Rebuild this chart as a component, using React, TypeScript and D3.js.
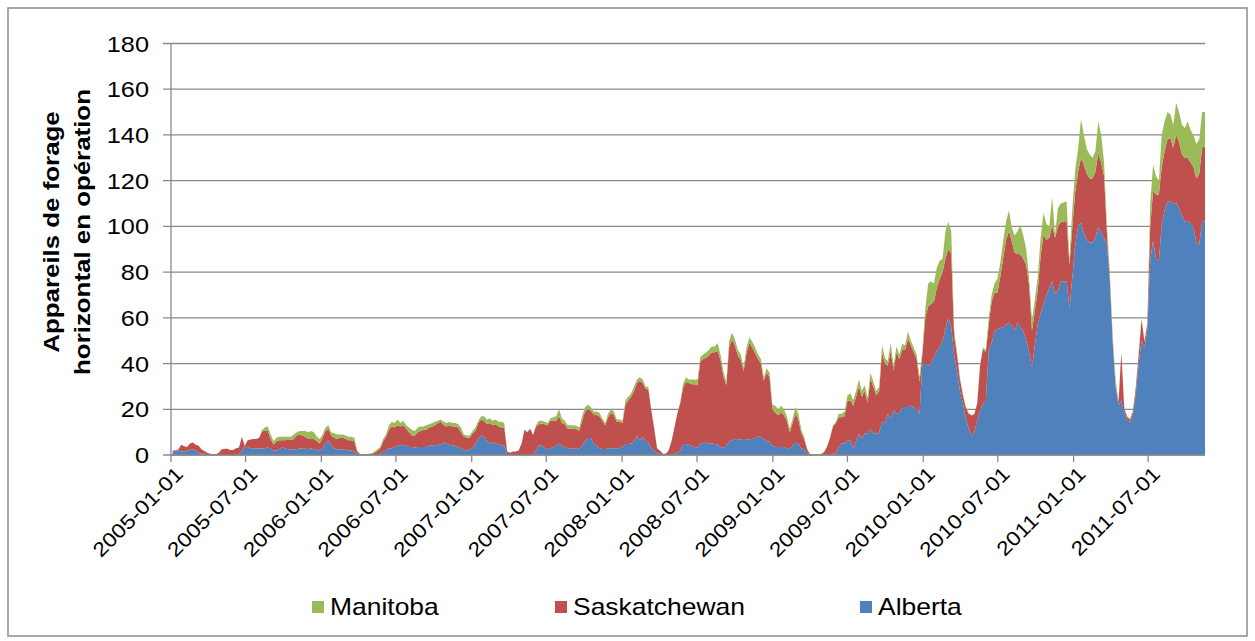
import React from 'react';
import * as d3 from 'd3';

// Weekly observations, first week starting on this date
const startDate = '2005-01-05';

const alberta = [
  1.8, 1.8, 2, 1.5, 1.5, 2, 2.2, 2.5, 2, 1,
  0.5, 0.5, 0.3, 0, 0, 0, 0, 0, 0, 0,
  0, 0, 0, 0.5, 2, 3.7, 3.5, 3, 3, 3,
  2.8, 2.8, 3, 3.5, 2.5, 2, 2, 2.5, 3.5, 3,
  2.5, 2.5, 2.5, 2.5, 3, 2.7, 2.7, 2.5, 3, 2.5,
  2.5, 2, 3, 5, 6.4, 4, 3, 2.5, 2.5, 2.5,
  2.3, 2, 2, 1.5, 0.5, 0.2, 0.1, 0, 0, 0,
  0, 0.3, 0.5, 1.5, 2, 3, 3, 3.5, 4, 4.2,
  4.5, 4, 3.5, 3.5, 3.2, 3.5, 3.5, 3.5, 3.5, 4,
  4.3, 4.3, 4.5, 4.5, 5.5, 5, 4.5, 4.2, 4, 3.5,
  3, 2.2, 2, 2.5, 3, 5, 7, 8.5, 8, 6,
  5.5, 5, 5.5, 4.5, 4.5, 4, 0.2, 0, 0, 0,
  0, 0, 0, 0, 0.2, 0.5, 2, 4.3, 4.3, 3,
  2.5, 3, 3.5, 4, 5, 4, 3.5, 3, 3, 2.8,
  2.6, 3, 4, 6, 7.4, 7.4, 5, 4, 3, 2.6,
  2.6, 3, 3, 3, 3, 3, 3.5, 4.8, 4.8, 5,
  6, 8.4, 6.5, 8, 6, 5.5, 3, 2, 1, 0.5,
  0, 0, 0, 0, 0.5, 1, 2, 4.8, 4.8, 4.5,
  4, 3.5, 3.2, 5, 5.4, 5.4, 5, 5, 4.8, 4.5,
  3.5, 3.2, 4, 6, 6.5, 7, 6.9, 6.9, 7, 6.9,
  6.9, 7, 7.5, 8, 8, 7, 6, 6, 4, 3.5,
  3.5, 3.5, 3.5, 3, 2.5, 4, 5.4, 5, 3, 2.5,
  1, 0.3, 0.2, 0.2, 0.2, 0.2, 0.3, 0.3, 0.3, 0.5,
  0.5, 3.5, 5, 5, 6.5, 6.5, 3, 6, 9.4, 7.2,
  9.4, 9.4, 11.6, 9.4, 9.4, 10, 14.5, 13.8, 18, 16,
  19.5, 18, 18.5, 21, 21, 21, 21.7, 21, 20, 18,
  40, 40, 39, 40, 43, 45.6, 47, 50, 55, 60,
  56, 44, 37, 28, 23, 16.5, 11.7, 8.5, 10, 15,
  19, 22.6, 23.5, 45.7, 49, 54, 55, 55.5, 56, 57,
  58, 56.6, 54.4, 58, 56, 54.4, 50, 45, 38.5, 48,
  57.3, 62, 66, 70, 73.2, 76, 70.3, 71.8, 76, 76,
  76, 64, 78, 92, 100, 101.7, 97, 94, 93, 93,
  95, 100, 97, 95, 92, 76, 49, 30, 22, 24,
  18.5, 15, 14.5, 17.5, 27, 40, 50, 47, 55, 85,
  93.8, 86, 85, 101, 107, 111, 111, 109.7, 110.4, 108,
  105, 102, 102.5, 101, 100, 93, 92, 102.5, 102,
];

const saskatchewan = [
  0.2, 0.2, 0.5, 3, 2.3, 1.5, 2.8, 3, 2.5, 3,
  2, 1.3, 0.7, 0.5, 0.3, 0.3, 1, 2.5, 2.7, 2.7,
  2.2, 2.2, 3, 2.8, 6, 0.3, 3, 3.8, 4, 4,
  4.7, 7.6, 7.5, 7, 4.5, 2.5, 4, 4, 3, 3.5,
  4.5, 4, 4.5, 6, 6, 5.8, 5.3, 4.5, 4, 4.5,
  3.5, 3, 4.5, 5.5, 5.1, 4.5, 4.5, 4.5, 5, 5,
  4.7, 4.5, 4.5, 4.5, 1, 0.1, 0.1, 0.3, 0.4, 0.6,
  1, 1.5, 2.3, 4.5, 6, 8, 9.5, 8.5, 9, 8.3,
  8.5, 7.5, 6.5, 5, 5.3, 6.5, 7, 7.5, 7.5, 8,
  8.2, 8.7, 9.5, 10, 7.5, 7.5, 8.5, 8.3, 8.5, 8.5,
  7, 5.8, 5.5, 5, 6.5, 5.5, 7, 7, 7, 7.5,
  8.5, 8, 8, 8, 7.5, 8, 1.3, 1, 1.5, 1.5,
  2, 5, 11, 10, 11.3, 8.2, 10.5, 9.2, 9.5, 10.5,
  10.5, 12, 11.5, 11, 12, 10, 10, 8.5, 8.5, 8.7,
  8.7, 7.6, 11, 13, 12.6, 12.1, 12.8, 13.5, 14, 12.4,
  10.4, 13.5, 15.5, 14.5, 11.5, 11.5, 10.5, 17.2, 19.2, 20.5,
  22, 23.1, 26, 23.5, 23, 23, 16.5, 9.5, 1.8, 1.5,
  0.5, 0.5, 2, 6, 11.5, 17, 20.5, 24.7, 27.2, 27,
  27, 27.5, 27.3, 36, 36.6, 37.1, 38.5, 40, 40.2, 41,
  38, 31.3, 26.5, 41.5, 44, 41, 36.6, 34.6, 29.5, 37.6,
  42.1, 40, 37, 34, 32, 25.5, 30, 28, 16, 15,
  14, 15, 14, 12, 7.5, 10, 12.6, 10.5, 6.5, 4.5,
  1.5, 0.1, 0, 0, 0, 0.2, 1.1, 3.5, 7.5, 12,
  13.5, 13, 11.5, 12, 17, 17.5, 18.5, 19.5, 20.6, 18.3,
  18.6, 13.6, 21.9, 20.6, 16.6, 18, 30.5, 26.2, 21, 29.5,
  17.5, 27, 23.5, 25, 25, 30, 26.3, 24, 22, 14,
  4, 20, 26, 26, 24, 27.4, 30, 30, 31, 30,
  32, 8, 7, 5.5, 3.5, 4.5, 6.5, 8.8, 7.8, 7.5,
  20, 23.8, 21.5, 11.3, 18, 17, 16, 22.5, 30, 37,
  40, 36.9, 34.1, 30, 31.7, 31.6, 33, 29.5, 16, 15,
  14.7, 25, 30.4, 24, 21.8, 24.5, 24.7, 28.2, 26, 26,
  26.5, 19, 22, 23, 24, 28.3, 30, 29, 28, 28,
  29, 32, 31, 27, 5, 2, 1, 1, 1, 21,
  2, 1.5, 1, 1.5, 2.5, 4, 9.5, 2.5, 2.5, 15,
  21.7, 28, 29, 25, 26, 27, 27.7, 24.7, 29.6, 29,
  26.5, 28, 27.5, 27, 26, 28, 31, 31.9, 33,
];

const manitoba = [
  0, 0, 0, 0, 0, 0, 0, 0, 0, 0,
  0, 0, 0, 0, 0, 0, 0, 0, 0, 0,
  0, 0, 0, 0, 0, 0, 0, 0, 0, 0,
  0, 0.5, 1.5, 2, 2, 1.5, 1.5, 1.5, 1.5, 1.5,
  1, 1.5, 2, 1.5, 1.5, 2, 2.5, 3, 3.5, 3,
  2, 2, 1.5, 1.5, 1.5, 1.5, 2, 2, 1.5, 1.5,
  1.5, 1.5, 1.5, 1.5, 0.5, 0.2, 0.1, 0, 0.1, 0.2,
  0.5, 0.7, 0.7, 1, 1, 2, 2, 2, 2.5, 1.5,
  2, 1.5, 2, 2.5, 2, 2, 2, 1.5, 2, 1.5,
  1.5, 1.5, 1, 1, 1.5, 1.5, 1.5, 1.5, 1.5, 1.5,
  2, 1, 1, 1, 1, 1.5, 1, 1.5, 2, 2,
  2, 2, 2, 2, 2.5, 2, 0, 0, 0, 0,
  0, 0, 0, 0, 0, 0.3, 0.5, 1.5, 1.2, 1,
  1, 1, 1.5, 2, 3, 2, 1.5, 1.5, 1.5, 1.5,
  1.5, 1.4, 2, 2, 2, 1.5, 1.2, 1.5, 1.5, 1,
  1, 1.5, 1.5, 1.5, 1.1, 1, 1, 2, 1.5, 1.5,
  2, 1.5, 1.5, 1.5, 1, 1, 0.5, 0.5, 0.2, 0,
  0, 0, 0, 0, 0, 0, 0.5, 1.5, 2, 1.5,
  2, 2, 2.5, 2, 2, 2.5, 2.5, 2.5, 2.5, 3.5,
  2.5, 2, 1.5, 2.5, 3, 2.5, 2.5, 2.5, 2, 2.5,
  2.5, 2.5, 2.5, 2, 2, 1.5, 2, 2, 2, 3,
  2.5, 3, 2.5, 2, 1.5, 2, 3, 2.5, 1.5, 1,
  0.5, 0.1, 0.1, 0.1, 0.1, 0.1, 0.1, 0.2, 0.2, 0.5,
  0.5, 1.5, 1.5, 2, 2.5, 3, 2.5, 2.5, 3, 2.5,
  2.5, 2, 2.5, 2, 2, 2, 3, 2.5, 2, 3.5,
  2, 2.5, 2, 2.5, 2, 3, 2, 2, 2, 2,
  2, 4, 10, 10, 8, 9, 8, 6, 12, 12,
  10, 3, 1, 0.5, 0.5, 0.5, 0.3, 0.2, 0.2, 0.5,
  1, 0.6, 1, 3, 3, 4, 6, 6, 7.5, 8,
  9, 6, 7.5, 10, 12.8, 10, 7, 3, 4.5, 5,
  6, 8, 9.6, 7, 5, 12.5, 1.5, 8, 8, 8.5,
  8.5, 2, 8, 10, 10, 17, 13, 11, 10.5, 9,
  9, 14, 12, 6, 3, 2, 2, 2, 1, 0,
  0.5, 0.5, 0.5, 0.5, 0.5, 1, 0.5, 0.5, 0.5, 10,
  11.5, 8, 6, 14, 13, 12, 10.3, 10.1, 14, 13,
  13, 13, 16, 14, 14, 15, 15, 15.6, 15,
];

const seriesKeys = ['Alberta', 'Saskatchewan', 'Manitoba'];
const seriesColors: Record<string, string> = {
  Alberta: '#4F81BD',
  Saskatchewan: '#C0504D',
  Manitoba: '#9BBB59',
};
const legendOrder = ['Manitoba', 'Saskatchewan', 'Alberta'];
const legendX = [312, 555, 860];

const tickDates = [
  '2005-01-01', '2005-07-01', '2006-01-01', '2006-07-01', '2007-01-01',
  '2007-07-01', '2008-01-01', '2008-07-01', '2009-01-01', '2009-07-01',
  '2010-01-01', '2010-07-01', '2011-01-01', '2011-07-01',
];
const xDomain = ['2005-01-01', '2011-11-16'];
const yTicks = [0, 20, 40, 60, 80, 100, 120, 140, 160, 180];
const yTitle = ['Appareils de forage', 'horizontal en opération'];

const FONT = '"Liberation Sans", Arial, sans-serif';
const STRETCH = 1.15;

export default function App() {
  const W = 1255;
  const H = 641;
  const left = 171;
  const right = 1205;
  const top = 43.5;
  const bottom = 455;

  const parse = d3.utcParse('%Y-%m-%d');
  const x = d3.scaleUtc().domain(xDomain.map((s) => parse(s) as Date)).range([left, right]);
  const y = d3.scaleLinear().domain([0, 180]).range([bottom, top]);

  const start = parse(startDate) as Date;
  const rows = alberta.map((a, i) => ({
    date: d3.utcDay.offset(start, 7 * i),
    Alberta: a,
    Saskatchewan: saskatchewan[i],
    Manitoba: manitoba[i],
  }));

  const stacked = d3.stack<any>().keys(seriesKeys)(rows);
  const area = d3
    .area<any>()
    .x((d) => x(d.data.date))
    .y0((d) => y(d[0]))
    .y1((d) => y(d[1]));

  const gridColor = '#8a8a8a';

  return (
    <svg
      width={W}
      height={H}
      style={{ position: 'absolute', left: 0, top: 0, background: '#fff' }}
      fontFamily={FONT}
    >
      <rect x={0} y={0} width={W} height={H} fill="#fff" />
      <rect x={8} y={8} width={1239} height={628} fill="none" stroke="#8c8c8c" strokeWidth={1.5} />

      {/* gridlines + y ticks */}
      {yTicks.map((t) => (
        <g key={t}>
          <line x1={left - 8} x2={right} y1={y(t)} y2={y(t)} stroke={gridColor} strokeWidth={1.3} />
          <text
            transform={`translate(149,${y(t) + 8}) scale(${STRETCH},1)`}
            textAnchor="end"
            fontSize={22}
            fill="#000"
          >
            {t}
          </text>
        </g>
      ))}

      {/* areas */}
      {stacked.map((s) => (
        <path key={s.key} d={area(s) || ''} fill={seriesColors[s.key]} stroke="none" />
      ))}

      {/* axes */}
      <line x1={left} x2={left} y1={top} y2={bottom} stroke={gridColor} strokeWidth={1.3} />
      <line x1={left} x2={right} y1={bottom} y2={bottom} stroke={gridColor} strokeWidth={1.3} />
      {tickDates.map((d) => {
        const xp = x(parse(d) as Date);
        return (
          <g key={d}>
            <line x1={xp} x2={xp} y1={bottom} y2={bottom + 7} stroke={gridColor} strokeWidth={1.3} />
            <text
              transform={`translate(${xp + 3},${bottom + 10}) rotate(-45) scale(${STRETCH},1)`}
              textAnchor="end"
              dy="0.72em"
              fontSize={20}
              fill="#000"
            >
              {d}
            </text>
          </g>
        );
      })}

      {/* y title */}
      {yTitle.map((line, i) => (
        <text
          key={line}
          transform={`translate(${59 + i * 31},232) rotate(-90) scale(${STRETCH},1)`}
          textAnchor="middle"
          fontSize={22.5}
          fontWeight="bold"
          fill="#000"
        >
          {line}
        </text>
      ))}

      {/* legend */}
      {legendOrder.map((k, i) => (
        <g key={k}>
          <rect x={legendX[i]} y={601} width={12} height={12} fill={seriesColors[k]} />
          <text
            transform={`translate(${legendX[i] + 18},615) scale(${STRETCH},1)`}
            fontSize={23}
            fill="#000"
          >
            {k}
          </text>
        </g>
      ))}
    </svg>
  );
}
